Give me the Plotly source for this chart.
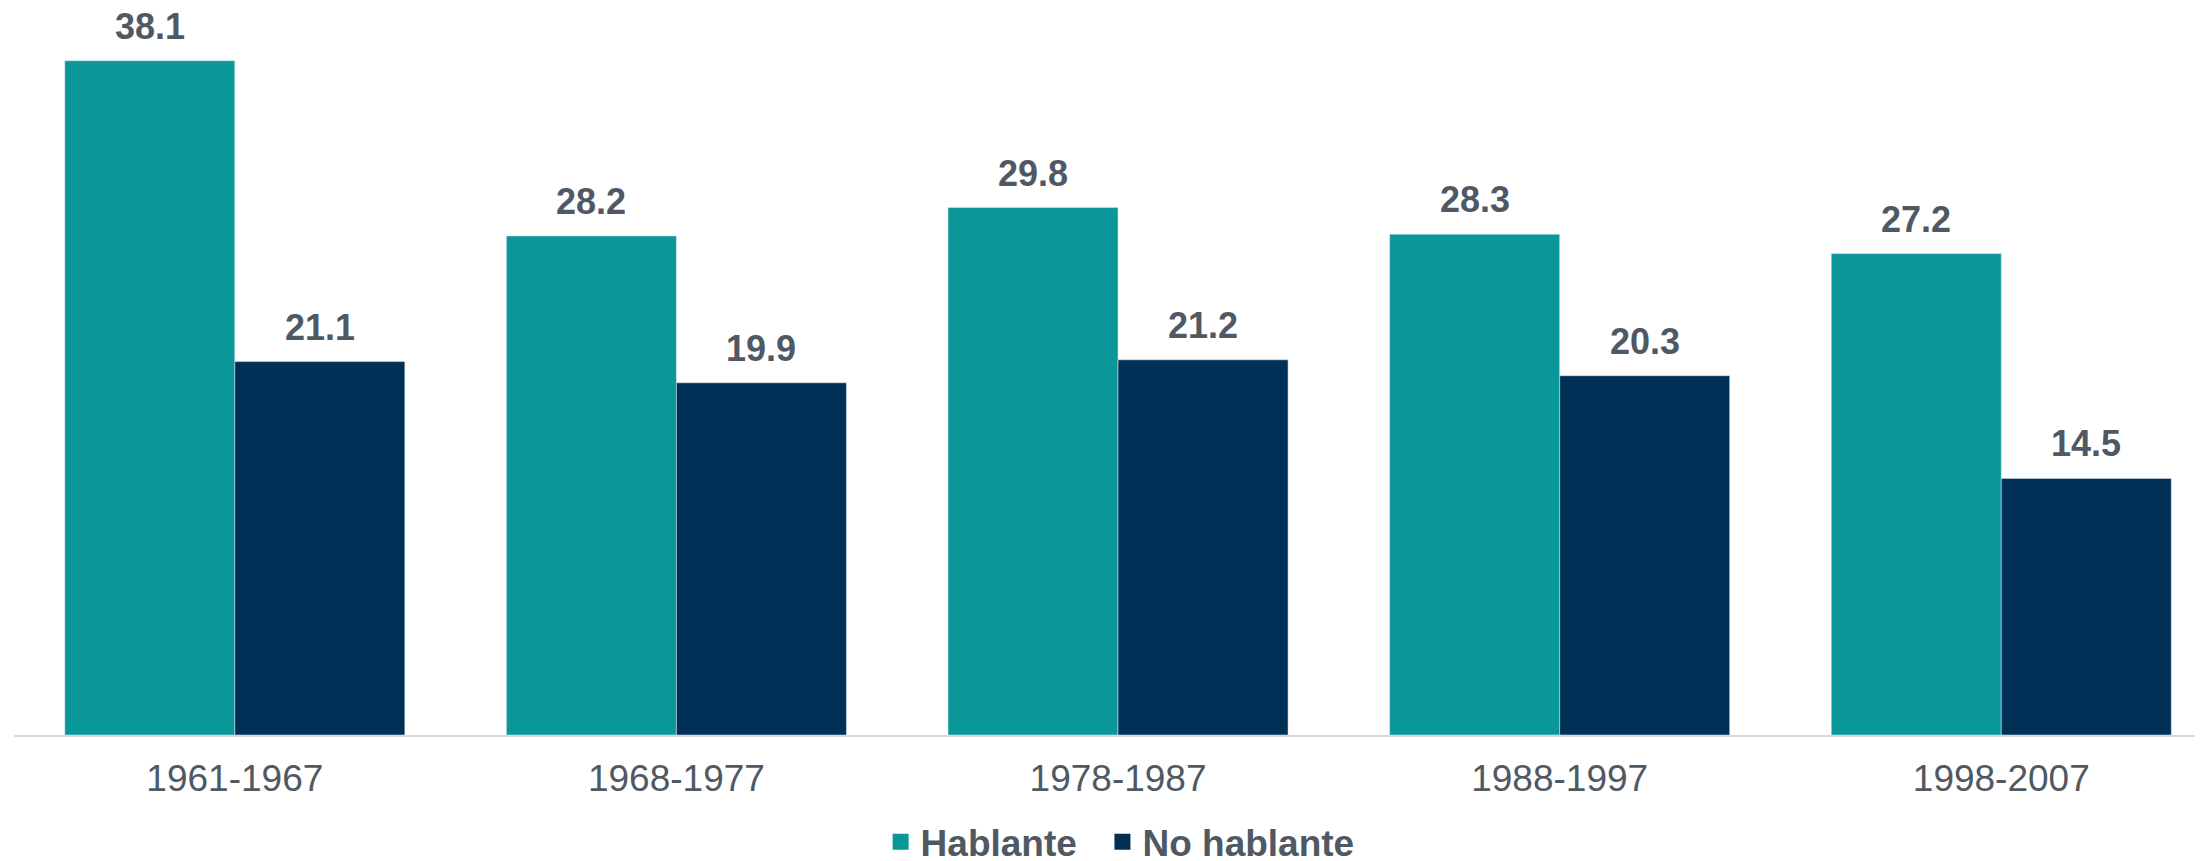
import plotly.graph_objects as go

HABLANTE_COLOR = "#099799"
NO_HABLANTE_COLOR = "#003056"
TEXT_COLOR = "#505963"

periodos = ["1961-1967", "1968-1977", "1978-1987", "1988-1997", "1998-2007"]
hablante = [38.1, 28.2, 29.8, 28.3, 27.2]
no_hablante = [21.1, 19.9, 21.2, 20.3, 14.5]

BAR_SHIFT = 85  # half a bar width in px, to put labels over each bar of the group

fig = go.Figure()
for name, legend_name, values, color, shift in [
    ("Hablante", "Hablante\u00a0\u00a0", hablante, HABLANTE_COLOR, -BAR_SHIFT),
    ("No hablante", "No hablante", no_hablante, NO_HABLANTE_COLOR, BAR_SHIFT),
]:
    fig.add_trace(
        go.Bar(
            x=periodos,
            y=values,
            name=name,
            marker_color=color,
            showlegend=False,
        )
    )
    # legend entry with a bigger square
    fig.add_trace(
        go.Scatter(
            x=[None],
            y=[None],
            mode="markers",
            name=legend_name,
            marker=dict(symbol="square", size=18, color=color),
        )
    )
    for p, v in zip(periodos, values):
        fig.add_annotation(
            x=p,
            y=v,
            text=f"{v:.1f}",
            showarrow=False,
            xshift=shift,
            yshift=12,
            yanchor="bottom",
            font=dict(size=36, color=TEXT_COLOR, family="Liberation Sans", weight="bold"),
        )

# page body has an 8px margin, so the figure is a bit smaller than the window
fig.update_layout(
    width=2195,
    height=853,
    barmode="group",
    bargap=0.23,
    bargroupgap=0,
    plot_bgcolor="white",
    paper_bgcolor="white",
    font=dict(family="Liberation Sans", color=TEXT_COLOR),
    margin=dict(l=6, r=3, t=12, b=126, autoexpand=False),
    xaxis=dict(
        range=[-0.5, 4.45],
        showline=True,
        linecolor="#d9d9d9",
        linewidth=2,
        ticks="",
        ticklabelstandoff=10,
        tickfont=dict(size=37, color=TEXT_COLOR),
        showgrid=False,
    ),
    yaxis=dict(visible=False, range=[0, 40.4], showgrid=False),
    legend=dict(
        orientation="h",
        x=0.506,
        xanchor="center",
        y=-0.15,
        yanchor="middle",
        font=dict(size=37, color=TEXT_COLOR, family="Liberation Sans", weight="bold"),
        itemwidth=30,
    ),
)

fig.write_html("out.html")
